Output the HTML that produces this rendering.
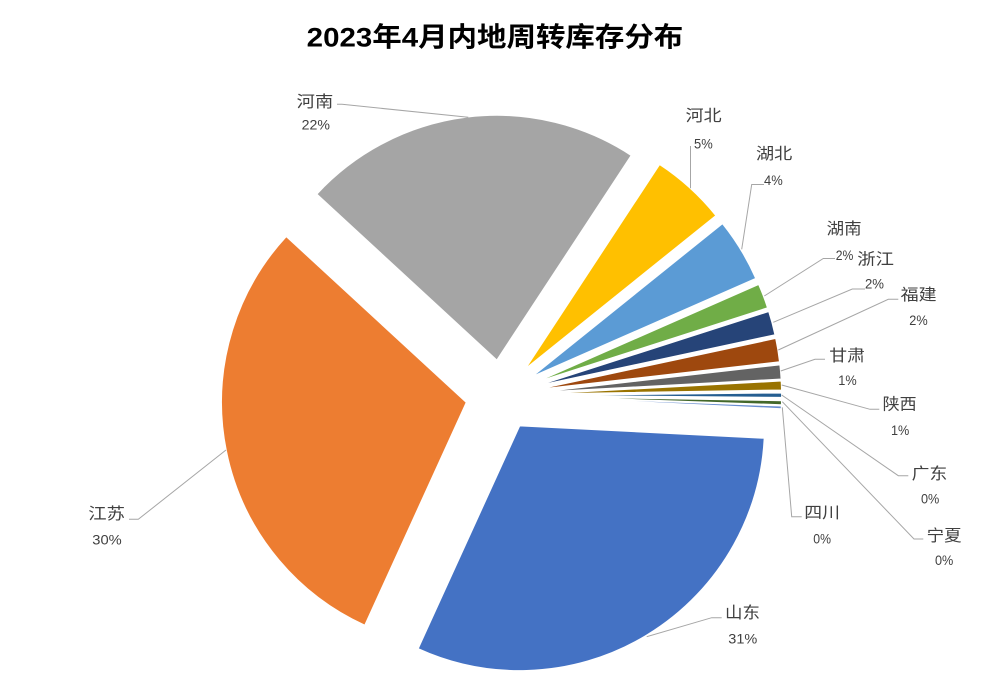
<!DOCTYPE html>
<html>
<head>
<meta charset="utf-8">
<style>
  html,body{margin:0;padding:0;background:#fff;}
  svg{display:block;}
  .lb{font-family:"Liberation Sans","Noto Sans CJK SC",sans-serif;fill:#404040;}
  .cj{font-size:16px;}
  .pc{font-size:14px;}
  .ld{fill:none;stroke:#A6A6A6;stroke-width:1;}
</style>
</head>
<body>
<svg width="985" height="688" viewBox="0 0 985 688" xmlns="http://www.w3.org/2000/svg">
  <rect x="0" y="0" width="985" height="688" fill="#fff"/>

  <text x="306.7" y="46.7" textLength="376.6" lengthAdjust="spacingAndGlyphs" style="font-family:'Liberation Sans','Noto Sans CJK SC',sans-serif;font-size:27px;font-weight:bold;fill:#000;">2023年4月内地周转库存分布</text>

  <g stroke="#fff" stroke-width="1.3" stroke-linejoin="miter">
    <path d="M519.64,425.73 L764.33,438.13 A245,245 0 0 1 418.04,648.67 Z" fill="#4472C4"/>
    <path d="M466.40,402.43 L364.80,625.37 A245,245 0 0 1 286.25,236.39 Z" fill="#ED7D31"/>
    <path d="M496.86,360.17 L316.71,194.13 A245,245 0 0 1 631.37,155.40 Z" fill="#A5A5A5"/>
    <path d="M525.06,369.12 L659.57,164.35 A245,245 0 0 1 716.00,215.60 Z" fill="#FFC000"/>
    <path d="M531.55,376.98 L722.49,223.46 A245,245 0 0 1 755.89,278.50 Z" fill="#5B9BD5"/>
    <path d="M534.40,382.82 L758.74,284.34 A245,245 0 0 1 767.67,307.92 Z" fill="#70AD47"/>
    <path d="M535.50,386.24 L768.77,311.34 A245,245 0 0 1 775.06,334.88 Z" fill="#264478"/>
    <path d="M536.23,389.66 L775.79,338.30 A245,245 0 0 1 779.65,361.93 Z" fill="#9E480E"/>
    <path d="M536.58,392.43 L780.00,364.70 A245,245 0 0 1 781.22,379.18 Z" fill="#636363"/>
    <path d="M536.68,394.15 L781.32,380.90 A245,245 0 0 1 781.65,390.09 Z" fill="#997300"/>
    <path d="M536.70,395.37 L781.69,392.80 A245,245 0 0 1 781.69,397.51 Z" fill="#255E91"/>
    <path d="M536.69,396.33 L781.65,400.61 A245,245 0 0 1 781.54,404.88 Z" fill="#43682B"/>
    <path d="M536.67,396.92 L781.51,405.90 A245,245 0 0 1 781.38,408.89 Z" fill="#698ED0"/>
  </g>

  <!-- leader lines -->
  <polyline class="ld" points="337,104.3 342,104.3 468.3,117.3"/>
  <polyline class="ld" points="690.5,146 690.5,188.3"/>
  <polyline class="ld" points="764,184.5 751.7,184.5 741.7,249.3"/>
  <polyline class="ld" points="835,258.5 823.3,258.5 764.3,296"/>
  <polyline class="ld" points="865,289 852.3,289 773.3,322.3"/>
  <polyline class="ld" points="898.3,299.3 888.3,299.3 778.3,350"/>
  <polyline class="ld" points="825,359.3 815,359.3 780.7,371"/>
  <polyline class="ld" points="781.7,385 870,409.3 879.3,409.3"/>
  <polyline class="ld" points="781.7,395 898.3,475.7 908.3,475.7"/>
  <polyline class="ld" points="782.3,407.3 791.7,516.7 801.7,516.7"/>
  <polyline class="ld" points="782.3,401.7 914,539 923.3,539"/>
  <polyline class="ld" points="129,519.3 138.3,519.3 226,450"/>
  <polyline class="ld" points="721.7,617.7 711.7,617.7 646.7,636.7"/>

  <!-- labels -->
  <text class="lb cj" x="296.7" y="106.8" textLength="36.6" lengthAdjust="spacingAndGlyphs">河南</text>
  <text class="lb pc" x="301.7" y="129.3" textLength="28.3" lengthAdjust="spacingAndGlyphs">22%</text>

  <text class="lb cj" x="685.7" y="121" textLength="36" lengthAdjust="spacingAndGlyphs">河北</text>
  <text class="lb pc" x="694" y="148.3" textLength="18.7" lengthAdjust="spacingAndGlyphs">5%</text>

  <text class="lb cj" x="756" y="158.8" textLength="36.3" lengthAdjust="spacingAndGlyphs">湖北</text>
  <text class="lb pc" x="764" y="185" textLength="18.7" lengthAdjust="spacingAndGlyphs">4%</text>

  <text class="lb cj" x="826.7" y="233.8" textLength="35" lengthAdjust="spacingAndGlyphs">湖南</text>
  <text class="lb pc" x="835.7" y="260" textLength="17.6" lengthAdjust="spacingAndGlyphs">2%</text>

  <text class="lb cj" x="857.3" y="264.4" textLength="36.7" lengthAdjust="spacingAndGlyphs">浙江</text>
  <text class="lb pc" x="865" y="288.3" textLength="19" lengthAdjust="spacingAndGlyphs">2%</text>

  <text class="lb cj" x="900.7" y="300.1" textLength="36" lengthAdjust="spacingAndGlyphs">福建</text>
  <text class="lb pc" x="909.3" y="325" textLength="18.4" lengthAdjust="spacingAndGlyphs">2%</text>

  <text class="lb cj" x="829.3" y="361.1" textLength="35.7" lengthAdjust="spacingAndGlyphs">甘肃</text>
  <text class="lb pc" x="838.3" y="385" textLength="18.4" lengthAdjust="spacingAndGlyphs">1%</text>

  <text class="lb cj" x="882.7" y="409.4" textLength="34" lengthAdjust="spacingAndGlyphs">陕西</text>
  <text class="lb pc" x="891" y="435" textLength="18.3" lengthAdjust="spacingAndGlyphs">1%</text>

  <text class="lb cj" x="911.7" y="478.8" textLength="35.6" lengthAdjust="spacingAndGlyphs">广东</text>
  <text class="lb pc" x="921" y="503.3" textLength="18.3" lengthAdjust="spacingAndGlyphs">0%</text>

  <text class="lb cj" x="804.3" y="517.8" textLength="35.7" lengthAdjust="spacingAndGlyphs">四川</text>
  <text class="lb pc" x="813.3" y="543.3" textLength="17.7" lengthAdjust="spacingAndGlyphs">0%</text>

  <text class="lb cj" x="926.7" y="541.1" textLength="35" lengthAdjust="spacingAndGlyphs">宁夏</text>
  <text class="lb pc" x="935" y="565" textLength="18.3" lengthAdjust="spacingAndGlyphs">0%</text>

  <text class="lb cj" x="88.3" y="518.8" textLength="36.7" lengthAdjust="spacingAndGlyphs">江苏</text>
  <text class="lb pc" x="92.3" y="544.3" textLength="29.4" lengthAdjust="spacingAndGlyphs">30%</text>

  <text class="lb cj" x="725" y="617.8" textLength="35" lengthAdjust="spacingAndGlyphs">山东</text>
  <text class="lb pc" x="728.3" y="643.3" textLength="29" lengthAdjust="spacingAndGlyphs">31%</text>
</svg>
</body>
</html>
